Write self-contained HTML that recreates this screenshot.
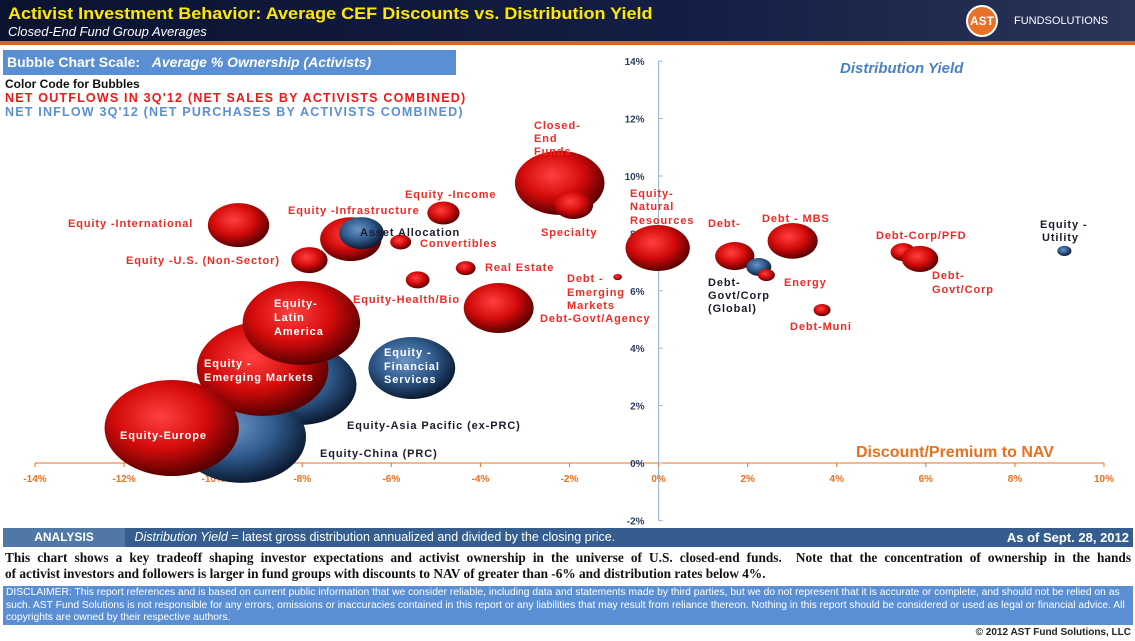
<!DOCTYPE html>
<html><head><meta charset="utf-8">
<style>
body{margin:0;width:1135px;height:641px;overflow:hidden;background:#fff;font-family:"Liberation Sans",sans-serif;position:relative}
.abs{position:absolute}
</style></head>
<body>
<div class="abs" style="left:0;top:0;width:1135px;height:41px;background:linear-gradient(90deg,#0b1330,#141e44 60%,#2a3558)"></div>
<div class="abs" style="left:0;top:41px;width:1135px;height:4px;background:#d9661c"></div>
<div class="abs" style="left:8px;top:4px;color:#ffe800;font-weight:bold;font-size:17px;white-space:nowrap;transform-origin:0 0;transform:scaleX(1.06)">Activist Investment Behavior: Average CEF Discounts vs. Distribution Yield</div>
<div class="abs" style="left:8px;top:24px;color:#fff;font-style:italic;font-size:13px">Closed-End Fund Group Averages</div>
<div class="abs" style="left:966px;top:5px;width:32px;height:32px;border-radius:50%;background:#e8712a;border:2px solid #fff;box-sizing:border-box;color:#fff;font-weight:bold;font-size:12px;line-height:28px;text-align:center">AST</div>
<div class="abs" style="left:1014px;top:15px;color:#fff;font-size:11px">FUNDSOLUTIONS</div>
<div class="abs" style="left:3px;top:50px;width:453px;height:25px;background:#5b8fd3;color:#fff;font-weight:bold;font-size:14px;line-height:25px;padding-left:4px;box-sizing:border-box">Bubble Chart Scale: &nbsp;&nbsp;<i>Average % Ownership (Activists)</i></div>
<div class="abs" style="left:5px;top:77px;font-size:12px;font-weight:bold;color:#111">Color Code for Bubbles</div>
<div class="abs" style="left:5px;top:91px;font-size:12.5px;letter-spacing:1.2px;font-weight:bold;color:#f01818;white-space:nowrap">NET OUTFLOWS IN 3Q'12 (NET SALES BY ACTIVISTS COMBINED)</div>
<div class="abs" style="left:5px;top:105px;font-size:12.5px;letter-spacing:1.2px;font-weight:bold;color:#5b8fd3;white-space:nowrap">NET INFLOW 3Q'12 (NET PURCHASES BY ACTIVISTS COMBINED)</div>

<svg class="abs" style="left:0;top:0" width="1135" height="641">
<defs>
<radialGradient id="gr" cx="0.42" cy="0.38" r="0.62"><stop offset="0" stop-color="#ff4040"/><stop offset="0.55" stop-color="#d40b0b"/><stop offset="1" stop-color="#5a0000"/></radialGradient>
<radialGradient id="gb" cx="0.42" cy="0.38" r="0.62"><stop offset="0" stop-color="#6b94c4"/><stop offset="0.55" stop-color="#2f5a8c"/><stop offset="1" stop-color="#0b1c33"/></radialGradient>
</defs>
<g id="axes"></g>
<g id="bubbles"></g>
<g id="labels" font-family="Liberation Sans, sans-serif" font-weight="bold" font-size="11" letter-spacing="0.9"></g>
<text x="840" y="73" fill="#4a80c4" font-size="15" font-weight="bold" font-style="italic">Distribution Yield</text>
<text x="856" y="457" fill="#e8701e" font-size="16" font-weight="bold">Discount/Premium to NAV</text>
</svg>

<div class="abs" style="left:3px;top:528px;width:1130px;height:19px;background:#355e8e;color:#fff;font-size:12.5px;line-height:19px;white-space:nowrap">
<span style="display:inline-block;width:122px;background:#4f78a6;text-align:center;font-weight:bold;font-size:12px">ANALYSIS</span>
<span style="padding-left:6px"><i>Distribution Yield</i> = latest gross distribution annualized and divided by the closing price.</span>
<span style="position:absolute;right:4px;font-weight:bold;font-size:13px">As of Sept. 28, 2012</span></div>
<div class="abs" style="left:5px;top:550px;width:1126px;font-family:'Liberation Serif',serif;font-weight:bold;font-size:13.3px;line-height:16px;color:#111">
<div style="text-align:justify;text-align-last:justify;white-space:nowrap">This chart shows a key tradeoff shaping investor expectations and activist ownership in the universe of U.S. closed-end funds.&nbsp; Note that the concentration of ownership in the hands</div>
<div style="white-space:nowrap">of activist investors and followers is larger in fund groups with discounts to NAV of greater than -6% and distribution rates below 4%.</div></div>
<div class="abs" style="left:3px;top:586px;width:1130px;height:39px;background:#5b8fd3;color:#fff;font-size:10.3px;line-height:12.6px;padding:1px 3px;box-sizing:border-box">DISCLAIMER: This report references and is based on current public information that we consider reliable, including data and statements made by third parties, but we do not represent that it is accurate or complete, and should not be relied on as such. AST Fund Solutions is not responsible for any errors, omissions or inaccuracies contained in this report or any liabilities that may result from reliance thereon. Nothing in this report should be considered or used as legal or financial advice. All copyrights are owned by their respective authors.</div>
<div class="abs" style="right:4px;top:627px;font-size:10px;font-weight:bold;color:#222">© 2012 AST Fund Solutions, LLC</div>

<script>
const names = ["AsiaPac","China","Emerging","Latin","Europe","Financial","International","US","Infra","Asset","Convert","Income","RealEstate","Health","GovtAgency","ClosedEnd","Specialty","DebtEM","NatRes","DebtCorp","GovtCorpGlobal","Energy","MBS","Muni","CorpPFD","GovtCorp","Utility"];
const discounts = [-8.04,-9.36,-8.89,-8.02,-10.93,-5.54,-9.43,-7.84,-6.91,-6.67,-5.79,-4.83,-4.33,-5.41,-3.59,-2.22,-1.91,-0.92,-0.02,1.71,2.25,2.42,3.01,3.67,5.49,5.87,9.11];
const yields = [2.72,0.91,3.28,4.88,1.22,3.31,8.29,7.07,7.80,8.01,7.70,8.71,6.79,6.38,5.40,9.76,8.99,6.48,7.49,7.21,6.83,6.55,7.74,5.33,7.35,7.11,7.39];
const ownership = [100,132,138,110,144,60,30,10.6,30,16,3.5,8.3,3.1,4.5,39,64,12.3,0.6,33,12.3,5,2.3,20,2.3,5,10.6,1.6];
const flows = ["in","in","out","out","out","in","out","out","out","in","out","out","out","out","out","out","out","out","out","out","in","out","out","out","out","out","in"];
const xTicks = [-14,-12,-10,-8,-6,-4,-2,0,2,4,6,8,10];
const yTicks = [-2,0,2,4,6,8,10,12,14];

const X0=35,X1=1104,XMIN=-14,XMAX=10, Y0=463, YPER=28.7;
function xs(v){return X0+(v-XMIN)/(XMAX-XMIN)*(X1-X0);}
function ys(v){return Y0-v*YPER;}
const NS="http://www.w3.org/2000/svg";
function mk(t,a,p){const e=document.createElementNS(NS,t);for(const k in a)e.setAttribute(k,a[k]);p.appendChild(e);return e;}
const ax=document.getElementById('axes');
let l=mk('line',{x1:X0,x2:X1,y1:ys(0),y2:ys(0),stroke:'#e8701e','stroke-width':1},ax);


l=mk('line',{x1:xs(0),x2:xs(0),y1:ys(14),y2:ys(-2),stroke:'#8fb3dc','stroke-width':1},ax);


xTicks.forEach(v=>{
  mk('line',{x1:xs(v),x2:xs(v),y1:ys(0),y2:ys(0)+4,stroke:'#e8701e'},ax);
  const t=mk('text',{x:xs(v),y:ys(0)+19,'text-anchor':'middle',fill:'#e8701e','font-size':10,'font-weight':'bold'},ax);
  t.textContent=v+'%';
  
  
});
yTicks.forEach(v=>{
  mk('line',{x1:xs(0),x2:xs(0)+4,y1:ys(v),y2:ys(v),stroke:'#8fb3dc'},ax);
  const t=mk('text',{x:xs(0)-14,y:ys(v)+4,'text-anchor':'end',fill:'#2d3f5e','font-size':10,'font-weight':'bold'},ax);
  t.textContent=v+'%';
  
  
});
const bg=document.getElementById('bubbles');
names.forEach((n,i)=>{
  const ry=4*Math.sqrt(ownership[i]);
  const e=mk('ellipse',{cx:xs(discounts[i]),cy:ys(yields[i]),rx:ry*1.4,ry:ry,fill:flows[i]==='in'?'url(#gb)':'url(#gr)'},bg);
  
  
});
const labels=[
["Closed-",534,129,"r"],["End",534,142,"r"],["Funds",534,155,"r"],
["Equity -Income",405,198,"r"],["Equity -International",68,227,"r"],["Equity -Infrastructure",288,214,"r"],
["Asset Allocation",360,236,"d"],["Convertibles",420,247,"r"],["Equity -U.S. (Non-Sector)",126,264,"r"],
["Real Estate",485,271,"r"],["Equity-Health/Bio",353,303,"r"],["Debt-Govt/Agency",540,322,"r"],
["Debt -",567,282,"r"],["Emerging",567,296,"r"],["Markets",567,309,"r"],["Specialty",541,236,"r"],
["Equity-",630,197,"r"],["Natural",630,210,"r"],["Resources",630,224,"r"],["Debt-",708,227,"r"],
["Debt - MBS",762,222,"r"],["Debt-",708,286,"d"],["Govt/Corp",708,299,"d"],["(Global)",708,312,"d"],
["Energy",784,286,"r"],["Debt-Muni",790,330,"r"],["Debt-Corp/PFD",876,239,"r"],["Debt-",932,279,"r"],["Govt/Corp",932,293,"r"],
["Equity -",1040,228,"d"],["Utility",1042,241,"d"],
["Equity-",274,307,"w"],["Latin",274,321,"w"],["America",274,335,"w"],["Equity -",204,367,"w"],["Emerging Markets",204,381,"w"],
["Equity -",384,356,"w"],["Financial",384,370,"w"],["Services",384,383,"w"],["Equity-Europe",120,439,"w"],
["Equity-Asia Pacific (ex-PRC)",347,429,"d"],["Equity-China (PRC)",320,457,"d"]];
const lg=document.getElementById('labels');
const col={r:'#ee2a24',d:'#1b1b2b',w:'#ffffff'};
labels.forEach(a=>{const t=mk('text',{x:a[1],y:a[2],fill:col[a[3]]},lg);t.textContent=a[0];
  
  });
</script>
</body></html>
